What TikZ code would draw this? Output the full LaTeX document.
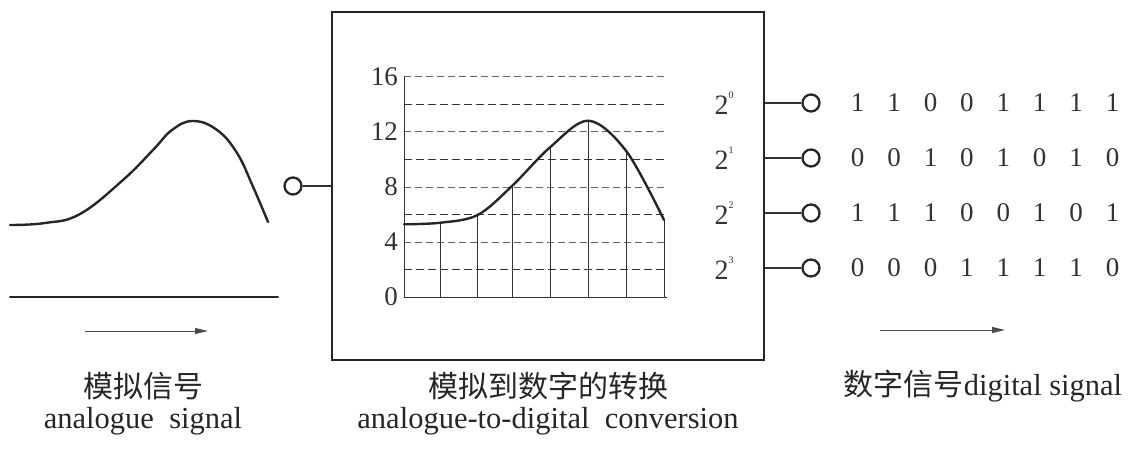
\documentclass[tikz,border=0pt]{standalone}
\usepackage{fontspec}
\setmainfont{Liberation Serif}
\newfontfamily\cjk{Noto Sans CJK SC}
\usetikzlibrary{arrows.meta}
\tikzset{
  port/.style={circle, draw=black!85, line width=2.3pt, minimum size=17pt, inner sep=0pt},
  wire/.style={draw=black!80, line width=1.1pt},
  signal/.style={draw=black!85, line width=2.4pt, line cap=round},
  gridthin/.style={draw=black!60, line width=0.8pt, dash pattern=on 7pt off 4pt},
  gridthick/.style={draw=black!80, line width=1.4pt, dash pattern=on 8pt off 4pt},
  vline/.style={draw=black!80, line width=1pt},
  flow/.style={draw=black!70, line width=0.9pt, -{Triangle[length=13pt, width=6pt]}},
  num/.style={inner sep=0pt, font=\fontsize{27}{30}\selectfont, text=black!80},
  lbl/.style={inner sep=0pt, font=\fontsize{30.5}{32}\selectfont, text=black!85},
  cjklbl/.style={inner sep=0pt, font=\cjk\fontsize{30}{32}\selectfont, text=black!85},
}
\begin{document}
\begin{tikzpicture}[x=1pt, y=-1pt]
\useasboundingbox (0,0) rectangle (1135,449);
% analogue signal
\draw[signal] plot[smooth, tension=0.7] coordinates {(10,225) (45,223) (80,214) (123,180) (153,150) (172,130) (193,121) (217,130) (237,153) (253,186.7) (268,222)};
\draw[signal, line width=2pt] (10,297) -- (278,297);
\coordinate (a1) at (85,331);
\coordinate (a2) at (208,331);
\draw[flow] (a1) -- (a2);
% box
\node[draw=black!85, line width=2.6pt, minimum width=432pt, minimum height=348pt, inner sep=0pt] (box) at (548,186) {};
\node[port] (inC) at (293,186) {};
\draw[wire] (inC) -- (inC -| box.west);
% chart grid
\foreach \v in {16,12,8,4} { \draw[gridthin] (404,{297-13.76*\v}) -- (667,{297-13.76*\v}); }
\foreach \v in {14,10,6,2} { \draw[gridthick] (404,{297-13.76*\v}) -- (667,{297-13.76*\v}); }
\draw[vline] (404,297) -- (667,297);
\draw[vline] (404,297) -- (404,76);
\foreach \v in {0,4,8,12,16} { \node[num, anchor=east] (yl\v) at (398,{297-13.76*\v}) {\v}; }
% sampled curve
\foreach \x/\y in {440.7/222.7, 477.7/215, 512/186, 550.7/146.7, 588.7/120.7, 626.7/151.7, 664/220} { \draw[vline] (\x,297) -- (\x,\y); }
\draw[signal] plot[smooth, tension=0.55] coordinates {(404,224.3) (440.7,222.7) (477.7,215) (512,186) (550.7,146.7) (588.7,120.7) (626.7,151.7) (664,220)};
% outputs
\foreach \r/\y in {0/103,1/158,2/213,3/268} {
  \node[num, font=\fontsize{28}{30}\selectfont] (p\r) at (724,\y) {2\raisebox{0.55em}{\fontsize{10}{10}\selectfont\r}};
  \node[port] (o\r) at (811,\y) {};
  \draw[wire] (o\r) -- (o\r -| box.east);
}
\foreach \r/\y/\bits in {0/103/{1,1,0,0,1,1,1,1}, 1/158/{0,0,1,0,1,0,1,0}, 2/213/{1,1,1,0,0,1,0,1}, 3/268/{0,0,0,1,1,1,1,0}} {
  \foreach \b [count=\c from 0] in \bits {
    \node[num] (b\r-\c) at ({857.7+36.4*\c},\y) {\b};
  }
}
\coordinate (d1) at (880,330);
\coordinate (d2) at (1005,330);
\draw[flow] (d1) -- (d2);
% captions
\node[cjklbl] (c1a) at (143,386) {模拟信号};
\node[lbl] (c1b) at (143,421) {analogue\ \ signal};
\node[cjklbl] (c2a) at (548,386) {模拟到数字的转换};
\node[lbl] (c2b) at (548,421) {analogue-to-digital\ \ conversion};
\node[lbl] (c3) at (983,386) {{\cjk\fontsize{30}{32}\selectfont 数字信号}digital signal};
\end{tikzpicture}
\end{document}
